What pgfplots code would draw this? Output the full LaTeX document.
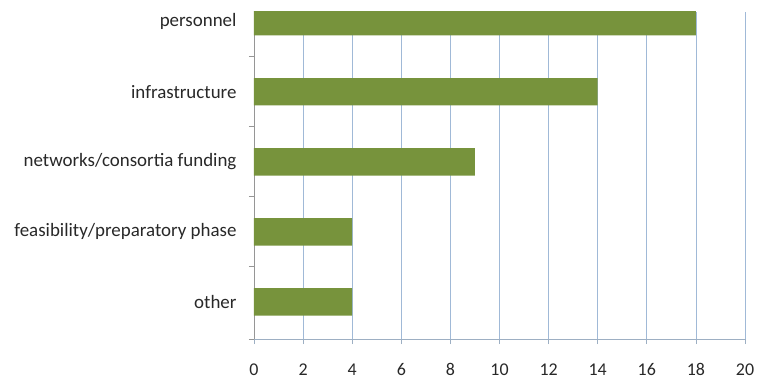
\documentclass[border=0pt]{standalone}
\usepackage{pgfplots}
\pgfplotsset{compat=1.18}
\usepackage{fontspec}
\setmainfont{Carlito}
\definecolor{bargreen}{RGB}{119,147,60}
\definecolor{gridblue}{RGB}{160,185,215}
\definecolor{axgray}{RGB}{150,150,150}
\definecolor{txt}{RGB}{40,40,40}
\begin{document}
\begin{tikzpicture}
\useasboundingbox (-254bp,-43bp) rectangle (507bp,339bp);
\begin{axis}[
  at={(0,0)}, anchor=south west,
  scale only axis, width=491bp, height=327bp,
  xmin=0, xmax=20, ymin=-0.53, ymax=4.14,
  xtick={0,2,...,20},
  ytick={-0.53,0.5,1.5,2.5,3.5},
  yticklabels={},
  extra y ticks={0,1,2,3,4},
  extra y tick labels={other, feasibility/preparatory phase, networks/consortia funding, infrastructure, personnel},
  extra y tick style={major tick length=0pt, grid=none},
  axis x line*=bottom, axis y line*=left,
  x axis line style={-, draw=gridblue!70!axgray, line width=0.8bp},
  y axis line style={-, draw=axgray, line width=0.8bp},
  xmajorgrids, grid style={draw=gridblue, line width=0.8bp},
  tick align=outside, major tick length=5bp,
  x tick style={draw=gridblue!70!axgray, line width=0.8bp},
  y tick style={draw=axgray, line width=0.8bp},
  /pgf/number format/assume math mode=true,
  xticklabel style={font=\fontsize{18}{22}\selectfont, text=txt, yshift=-16bp},
  yticklabel style={font=\fontsize{19}{23}\selectfont, text=txt, xshift=-14bp},
  clip=true,
]
\addplot[xbar, bar width=0.39, fill=bargreen, draw=none] coordinates {
  (4,0) (4,1) (9,2) (14,3) (18,4)
};
\end{axis}
\end{tikzpicture}
\end{document}
